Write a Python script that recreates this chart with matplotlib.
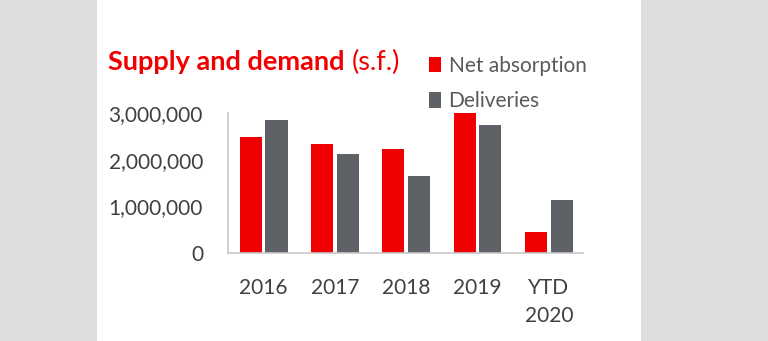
import matplotlib
matplotlib.use("Agg")
import matplotlib.pyplot as plt
import numpy as np
from matplotlib.patches import Rectangle
from matplotlib.ticker import FuncFormatter

categories = ["2016", "2017", "2018", "2019", "YTD\n2020"]
net_absorption = [2480000, 2330000, 2230000, 3000000, 460000]
deliveries = [2850000, 2130000, 1640000, 2740000, 1130000]

RED = "#f00000"
GREY = "#5e6166"
TEXT = "#404040"

plt.rcParams["font.family"] = ["Lato", "DejaVu Sans"]

W, H = 768, 341
fig = plt.figure(figsize=(W / 100, H / 100), dpi=100)
fig.patch.set_facecolor("#dddddd")
# white card behind the chart
fig.patches.append(Rectangle((97 / W, 0), (641 - 97) / W, 1, transform=fig.transFigure,
                             facecolor="white", edgecolor="none", zorder=-5))

ax = fig.add_axes([228 / W, 1 - 253 / H, (583 - 228) / W, (253 - 113) / H])
ax.set_facecolor("none")
ax.set_zorder(2)

x = np.arange(len(categories))
bw = 0.31
off = 0.18
ax.bar(x - off, net_absorption, bw, color=RED, label="Net absorption")
ax.bar(x + off, deliveries, bw, color=GREY, label="Deliveries")

ax.set_xlim(-0.5, 4.48)
ax.set_ylim(0, 3000000)
ax.set_yticks([0, 1000000, 2000000, 3000000])
ax.yaxis.set_major_formatter(FuncFormatter(lambda v, p: f"{int(v):,}"))
ax.set_xticks(x)
ax.set_xticklabels(categories, linespacing=1.5)
ax.tick_params(length=0, labelsize=15, labelcolor=TEXT)
ax.tick_params(axis="x", pad=18)
ax.tick_params(axis="y", pad=18)

for s in ["top", "right"]:
    ax.spines[s].set_visible(False)
for s in ["left", "bottom"]:
    ax.spines[s].set_color("#c8c8c8")
    ax.spines[s].set_linewidth(1.2)

# title: bold part then the unit in regular weight
t1 = fig.text(108 / W, 1 - 70 / H, "Supply and demand", color=RED, fontsize=19.5,
              fontweight="bold", va="baseline")
fig.canvas.draw()
bb = t1.get_window_extent()
fig.text((bb.x1 + 7) / W, 1 - 70 / H, "(s.f.)", color=RED, fontsize=19.5,
         va="baseline")

leg = fig.legend(loc="upper left", bbox_to_anchor=(410 / W, 1 - 37 / H), frameon=False,
                 fontsize=15, handlelength=0.6, handleheight=0.75, handletextpad=0.35,
                 labelspacing=0.75, labelcolor="#5a5a5a")

fig.savefig("out.png", dpi=100, facecolor=fig.get_facecolor())
